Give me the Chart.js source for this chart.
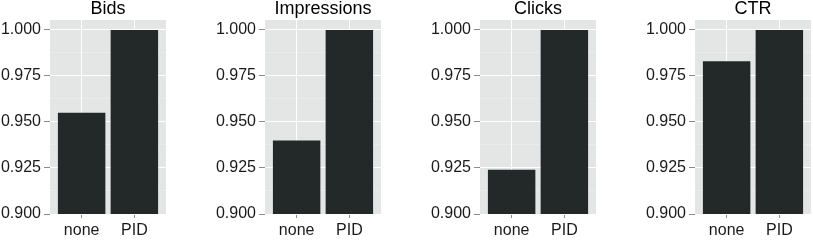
<!DOCTYPE html>
<html>
<head>
<meta charset="utf-8">
<script src="https://cdn.jsdelivr.net/npm/chart.js@4.4.1/dist/chart.umd.min.js"></script>
<style>
    body { margin: 0; background: #fff; overflow: hidden; }
    #wrap { position: relative; width: 813px; height: 241px; }
    #wrap canvas { position: absolute; top: 0; }
</style>
</head>
<body>
<div id="wrap"></div>
<script>
// data
const panels = ['Bids', 'Impressions', 'Clicks', 'CTR'];
const groups = ['none', 'PID'];
const noneValues = [0.955, 0.940, 0.924, 0.983];
const pidValues = [1.000, 1.000, 1.000, 1.000];
const yTicks = [0.900, 0.925, 0.950, 0.975, 1.000];
const yMinorTicks = [0.9125, 0.9375, 0.9625, 0.9875];

const FONT = "'Liberation Sans', Arial, sans-serif";
const allYTicks = yTicks.concat(yMinorTicks).sort((a, b) => a - b);
const isMajor = v => yTicks.includes(v);

const panelBackground = {
    id: 'panelBackground',
    beforeDraw(chart) {
        const { ctx, chartArea } = chart;
        ctx.save();
        ctx.fillStyle = '#e3e6e5';
        ctx.fillRect(chartArea.left, chartArea.top, chartArea.right - chartArea.left, chartArea.bottom - chartArea.top);
        ctx.restore();
    }
};

const wrap = document.getElementById('wrap');

panels.forEach((name, i) => {
    const canvas = document.createElement('canvas');
    canvas.width = 168;
    canvas.height = 241;
    canvas.style.left = (i * 215) + 'px';
    wrap.appendChild(canvas);

    new Chart(canvas.getContext('2d'), {
        type: 'bar',
        data: {
            datasets: [{
                data: groups.map((g, j) => ({ x: j, y: j === 0 ? noneValues[i] : pidValues[i] })),
                backgroundColor: '#232829',
                borderWidth: 0,
                categoryPercentage: 1,
                barPercentage: 0.9
            }]
        },
        plugins: [panelBackground],
        options: {
            responsive: false,
            animation: false,
            devicePixelRatio: 1,
            layout: { padding: { left: 0, right: 2, top: 0, bottom: 0 } },
            plugins: {
                legend: { display: false },
                tooltip: { enabled: false },
                title: {
                    display: true,
                    text: name,
                    fullSize: false,
                    color: '#000',
                    font: { family: FONT, size: 18, weight: 'normal', lineHeight: 1.055 },
                    padding: { top: 0, bottom: 1 }
                }
            },
            scales: {
                x: {
                    type: 'linear',
                    min: -0.6,
                    max: 1.6,
                    offset: false,
                    border: { display: false },
                    afterBuildTicks: scale => { scale.ticks = groups.map((g, j) => ({ value: j })); },
                    afterFit: scale => { scale.height = 27; },
                    grid: {
                        offset: false,
                        color: '#ffffff',
                        lineWidth: 1,
                        tickColor: '#8a8a8a',
                        tickLength: 4
                    },
                    ticks: {
                        padding: 3,
                        color: '#1a1a1a',
                        font: { family: FONT, size: 16 },
                        maxRotation: 0,
                        callback: v => groups[v]
                    }
                },
                y: {
                    min: 0.9,
                    max: 1.00543,
                    border: { display: false },
                    afterBuildTicks: scale => { scale.ticks = allYTicks.map(v => ({ value: v })); },
                    afterFit: scale => { scale.width = 50; },
                    grid: {
                        color: ctx => isMajor(ctx.tick.value) ? '#ffffff' : 'rgba(255,255,255,0.45)',
                        lineWidth: ctx => isMajor(ctx.tick.value) ? 1 : 0.6,
                        tickColor: ctx => isMajor(ctx.tick.value) ? '#8a8a8a' : 'rgba(0,0,0,0)',
                        tickLength: 6
                    },
                    ticks: {
                        autoSkip: false,
                        padding: 3,
                        color: '#1a1a1a',
                        font: { family: FONT, size: 16 },
                        callback: v => isMajor(v) ? v.toFixed(3) : ''
                    }
                }
            }
        }
    });
});
</script>
</body>
</html>
